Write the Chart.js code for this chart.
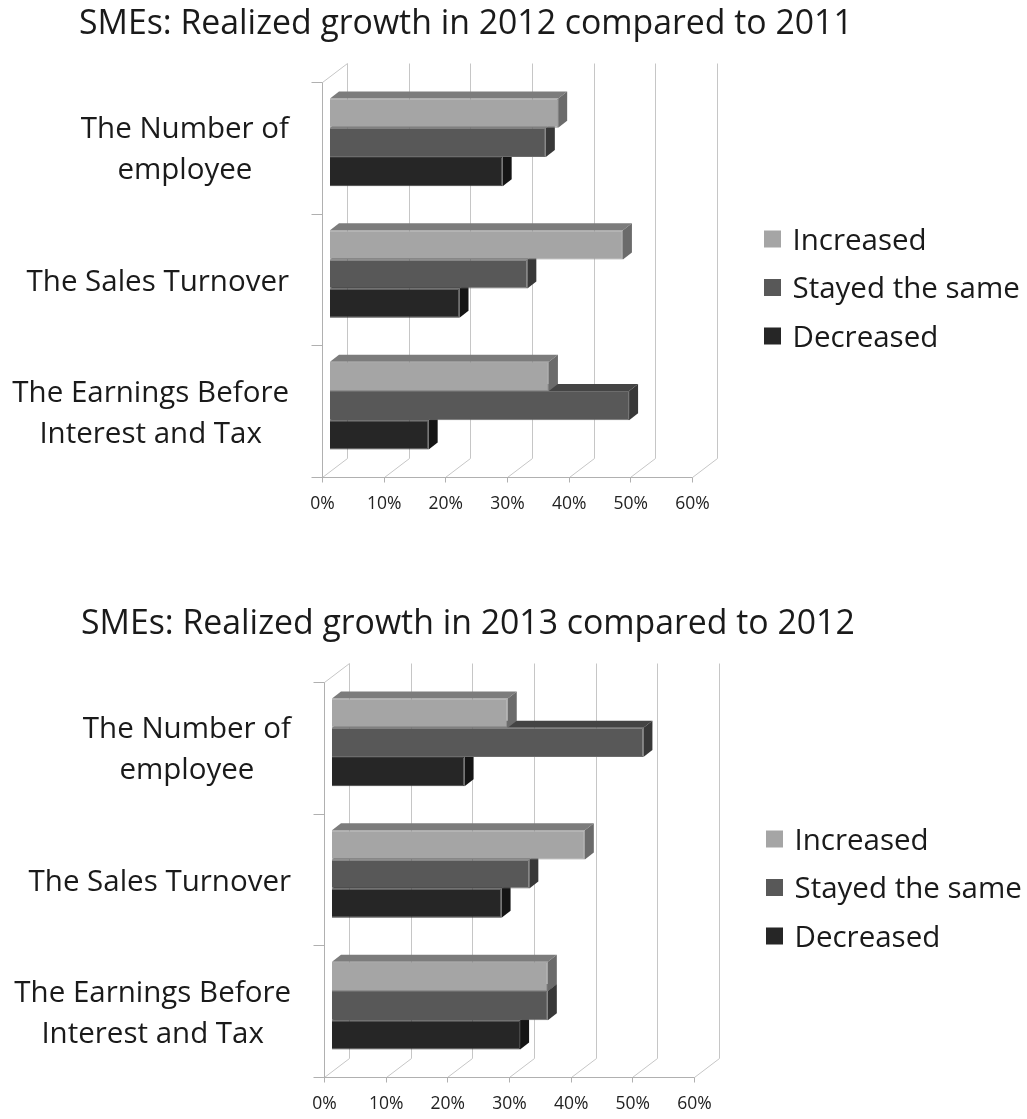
<!DOCTYPE html>
<html>
<head>
<meta charset="utf-8">
<title>SMEs: Realized growth</title>
<script src="https://cdn.jsdelivr.net/npm/chart.js@4.4.1/dist/chart.umd.min.js"></script>
<style>
  html, body { margin: 0; padding: 0; background: #fff; overflow: hidden; }
  .chart-box { position: absolute; left: 0; width: 1027px; height: 600px; }
</style>
</head>
<body>
<div class="chart-box" style="top:0"><canvas id="chart2012" width="1027" height="600"></canvas></div>
<div class="chart-box" style="top:600px;left:1.5px"><canvas id="chart2013" width="1027" height="600"></canvas></div>
<script>
const categories = [['The Number of', 'employee'], ['The Sales Turnover'], ['The Earnings Before', 'Interest and Tax']];
const seriesNames = ['Increased', 'Stayed the same', 'Decreased'];
const xTicks = [0, 10, 20, 30, 40, 50, 60];

const increased2012 = [37, 47.5, 35.5];
const stayed2012 = [35, 32, 48.5];
const decreased2012 = [28, 21, 16];

const increased2013 = [28.5, 41, 35];
const stayed2013 = [50.5, 32, 35];
const decreased2013 = [21.5, 27.5, 30.5];

const frontColors = ['#a5a5a5', '#585858', '#262626'];
const edgeColors = ['#8e8e8e', '#6c6c6c', '#3a3a3a'];
const topColors = ['#7c7c7c', '#444444', '#1e1e1e'];
const sideColors = ['#6b6b6b', '#383838', '#151515'];

const FONT = '"Open Sans"';
const TEXT = '#1a1a1a';
const WALL = { dx: 25, dy: -19 };       // depth of the chart box
const BAR_SHIFT = { dx: 7.5, dy: -6 };  // bars sit a bit inside the box
const BAR_DEPTH = { dx: 9, dy: -7 };

const px = v => Math.round(v - 0.5) + 0.5;

// fake 3D: walls, floor, bar tops and sides, title, labels and legend
const bars3d = {
  id: 'bars3d',
  beforeDatasetsDraw(chart) {
    const ctx = chart.ctx;
    const x = chart.scales.x, y = chart.scales.y;
    const top = px(y.top), bottom = px(y.bottom), left = px(x.left), right = px(x.right);
    ctx.save();
    ctx.lineWidth = 1;

    ctx.strokeStyle = '#c6c6c6';
    ctx.beginPath();
    x.ticks.forEach(t => {
      const gx = px(x.getPixelForValue(t.value));
      ctx.moveTo(gx, bottom);
      ctx.lineTo(gx + WALL.dx, bottom + WALL.dy);
      ctx.moveTo(gx + WALL.dx, bottom + WALL.dy);
      ctx.lineTo(gx + WALL.dx, top + WALL.dy);
    });
    ctx.moveTo(left, top);
    ctx.lineTo(left + WALL.dx, top + WALL.dy);
    ctx.stroke();

    ctx.strokeStyle = '#b0b0b0';
    ctx.beginPath();
    ctx.moveTo(left, top);
    ctx.lineTo(left, bottom);
    ctx.moveTo(left - 11, bottom);
    ctx.lineTo(right, bottom);
    const n = chart.data.labels.length;
    for (let i = 0; i < n; i++) {
      const ty = px(top + i * (bottom - top) / n);
      ctx.moveTo(left - 11, ty);
      ctx.lineTo(left, ty);
    }
    x.ticks.forEach(t => {
      const gx = px(x.getPixelForValue(t.value));
      ctx.moveTo(gx, bottom);
      ctx.lineTo(gx, bottom + 5);
    });
    ctx.stroke();
    ctx.restore();
  },
  beforeDatasetDraw(chart) {
    chart.ctx.save();
    chart.ctx.translate(BAR_SHIFT.dx, BAR_SHIFT.dy);
  },
  afterDatasetDraw(chart, args) {
    const ctx = chart.ctx;
    const i = args.index;
    args.meta.data.forEach(bar => {
      const { x, y, base, height } = bar.getProps(['x', 'y', 'base', 'height'], true);
      const t = y - height / 2, b = y + height / 2;
      ctx.fillStyle = topColors[i];
      ctx.beginPath();
      ctx.moveTo(base, t);
      ctx.lineTo(x, t);
      ctx.lineTo(x + BAR_DEPTH.dx, t + BAR_DEPTH.dy);
      ctx.lineTo(base + BAR_DEPTH.dx, t + BAR_DEPTH.dy);
      ctx.closePath();
      ctx.fill();
      ctx.fillStyle = sideColors[i];
      ctx.beginPath();
      ctx.moveTo(x, t);
      ctx.lineTo(x + BAR_DEPTH.dx, t + BAR_DEPTH.dy);
      ctx.lineTo(x + BAR_DEPTH.dx, b + BAR_DEPTH.dy);
      ctx.lineTo(x, b);
      ctx.closePath();
      ctx.fill();
    });
    ctx.restore();
  },
  afterDraw(chart, args, opts) {
    const ctx = chart.ctx, y = chart.scales.y;
    ctx.save();
    ctx.fillStyle = TEXT;
    ctx.textBaseline = 'alphabetic';

    // title (drawn here so the right-hand legend space does not squeeze it)
    ctx.font = `33.8px ${FONT}`;
    ctx.textAlign = 'left';
    ctx.fillText(opts.title, 79, 33.5);

    // category labels: right-aligned blocks, lines centred inside
    ctx.font = `29.5px ${FONT}`;
    ctx.textAlign = 'center';
    const labelRight = y.right - 33.5;
    chart.data.labels.forEach((lines, i) => {
      const cy = y.getPixelForTick(i);
      const blockW = Math.max(...lines.map(l => ctx.measureText(l).width));
      lines.forEach((line, j) => {
        ctx.fillText(line, labelRight - blockW / 2, cy + 10.5 + (j - (lines.length - 1) / 2) * 40.7);
      });
    });

    // legend
    ctx.textAlign = 'left';
    chart.data.datasets.forEach((ds, i) => {
      const cy = 239 + i * 48.5;
      ctx.fillStyle = ds.backgroundColor;
      ctx.fillRect(764, cy - 8.5, 17, 17);
      ctx.fillStyle = TEXT;
      ctx.fillText(ds.label, 792.5, cy + 10.5);
    });
    ctx.restore();
  }
};

function makeChart(id, title, increased, stayed, decreased) {
  return new Chart(document.getElementById(id), {
    type: 'bar',
    data: {
      labels: categories,
      datasets: [increased, stayed, decreased].map((data, i) => ({
        label: seriesNames[i],
        data,
        backgroundColor: frontColors[i],
        borderColor: edgeColors[i],
        borderWidth: 1,
        categoryPercentage: 0.666,
        barPercentage: 1
      }))
    },
    options: {
      indexAxis: 'y',
      responsive: false,
      animation: false,
      events: [],
      layout: { padding: { left: 80, right: 334.5, top: 82.5, bottom: 72.5 } },
      plugins: {
        legend: { display: false },
        tooltip: { enabled: false },
        title: { display: false },
        bars3d: { title }
      },
      scales: {
        x: {
          min: 0,
          max: 60,
          afterBuildTicks: s => { s.ticks = xTicks.map(v => ({ value: v })); },
          afterFit: s => { s.height = 50; },
          grid: { display: false, drawTicks: false },
          border: { display: false },
          ticks: { callback: v => v + '%', color: '#222', font: { family: FONT, size: 17.5 }, padding: 16 }
        },
        y: {
          afterFit: s => { s.width = 242.5; },
          grid: { display: false, drawTicks: false },
          border: { display: false },
          ticks: { display: false }
        }
      }
    },
    plugins: [bars3d]
  });
}

makeChart('chart2012', 'SMEs: Realized growth in 2012 compared to 2011', increased2012, stayed2012, decreased2012);
makeChart('chart2013', 'SMEs: Realized growth in 2013 compared to 2012', increased2013, stayed2013, decreased2013);
</script>
</body>
</html>
